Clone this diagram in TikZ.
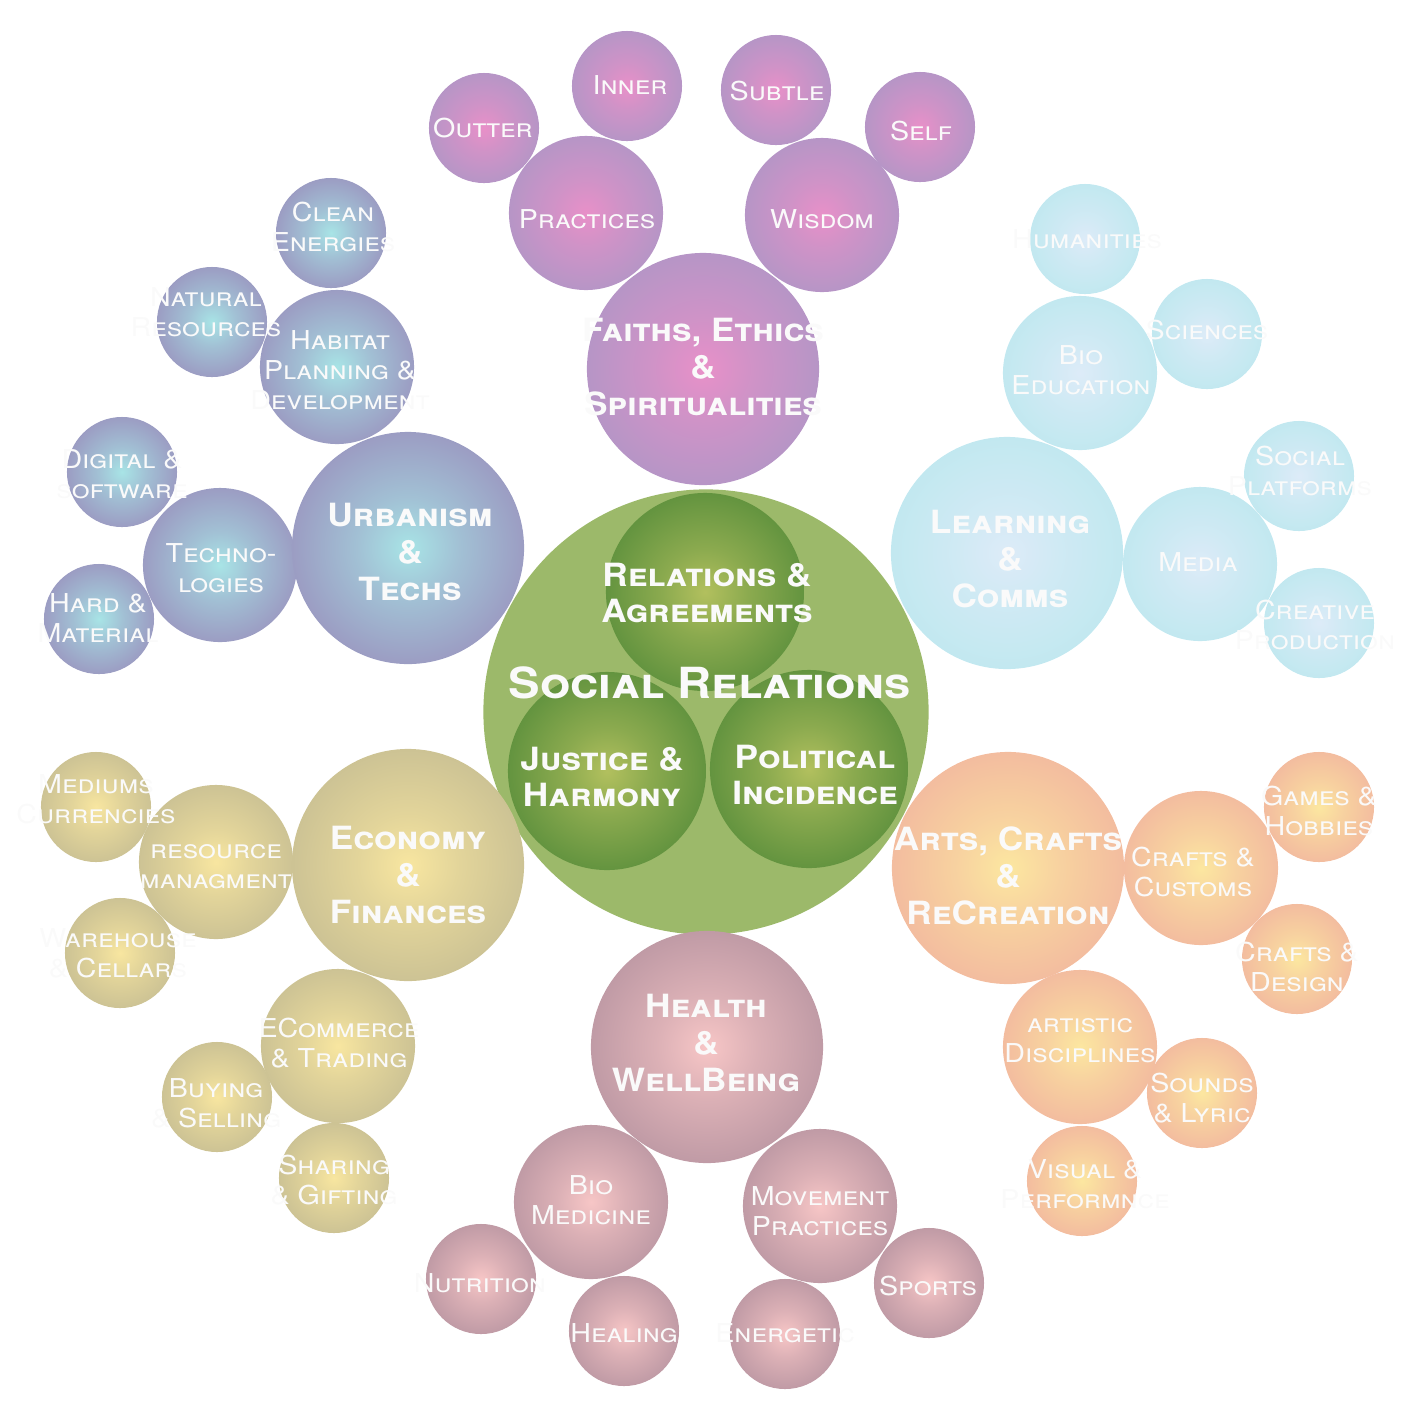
\documentclass[tikz,border=0pt]{standalone}
\usepackage{fontspec}
\setmainfont{TeX Gyre Heros}[FakeStretch=1.1]
\usepackage{tikz}

\definecolor{txtw}{RGB}{250,250,250}
\definecolor{core}{RGB}{156,185,106}
\definecolor{leafin}{RGB}{178,192,94}
\definecolor{leafout}{RGB}{91,143,60}
\definecolor{faithin}{RGB}{232,144,200}
\definecolor{faithout}{RGB}{177,150,198}
\definecolor{urbin}{RGB}{168,228,230}
\definecolor{urbout}{RGB}{154,149,191}
\definecolor{learnin}{RGB}{221,235,248}
\definecolor{learnout}{RGB}{191,232,239}
\definecolor{econin}{RGB}{248,230,160}
\definecolor{econout}{RGB}{200,191,147}
\definecolor{artin}{RGB}{252,231,160}
\definecolor{artout}{RGB}{242,184,159}
\definecolor{healin}{RGB}{247,198,198}
\definecolor{healout}{RGB}{186,150,162}

\colorlet{cin}{white}
\colorlet{cout}{black}
\pgfdeclareradialshading[cin,cout]{glow}{\pgfpointorigin}{color(0bp)=(cin); color(11bp)=(cin!55!cout); color(28bp)=(cout); color(50bp)=(cout)}

\tikzset{
  bubble/.style={circle, inner sep=0pt, shading=glow},
  bsmall/.style={bubble, minimum size=1.1cm},
  bmid/.style={bubble, minimum size=1.54cm},
  bbig/.style={bubble, minimum size=2.32cm},
  bleaf/.style={bubble, minimum size=1.98cm},
  leaf/.style={/utils/exec={\colorlet{cin}{leafin}\colorlet{cout}{leafout}}},
  faith/.style={/utils/exec={\colorlet{cin}{faithin}\colorlet{cout}{faithout}}},
  urb/.style={/utils/exec={\colorlet{cin}{urbin}\colorlet{cout}{urbout}}},
  learn/.style={/utils/exec={\colorlet{cin}{learnin}\colorlet{cout}{learnout}}},
  econ/.style={/utils/exec={\colorlet{cin}{econin}\colorlet{cout}{econout}}},
  art/.style={/utils/exec={\colorlet{cin}{artin}\colorlet{cout}{artout}}},
  heal/.style={/utils/exec={\colorlet{cin}{healin}\colorlet{cout}{healout}}},
  sublbl/.style={text=txtw, align=center, inner sep=0pt, font=\fontsize{7.4}{8.5}\selectfont\scshape},
  mainlbl/.style={text=txtw, align=center, inner sep=0pt, font=\fontsize{9.1}{10.5}\selectfont\bfseries\scshape},
}

\begin{document}
\begin{tikzpicture}[x=0.01cm,y=-0.01cm]
 \useasboundingbox (0,0) rectangle (1417,1417);
 \node[circle, fill=core, inner sep=0pt, minimum size=4.45cm] (social) at (706,712) {};
 \node[bleaf,leaf] (agree) at (705,592) {};
 \node[bleaf,leaf] (justice) at (607,771) {};
 \node[bleaf,leaf] (politic) at (809,769) {};
 % faiths
 \node[bsmall,faith] (outter) at (484,128) {};
 \node[bsmall,faith] (inner) at (627,86) {};
 \node[bsmall,faith] (subtle) at (776,90) {};
 \node[bsmall,faith] (self) at (920,127) {};
 \node[bmid,faith] (practices) at (586,213) {};
 \node[bmid,faith] (wisdom) at (822,215) {};
 \node[bbig,faith] (faiths) at (703,369) {};
 % urbanism
 \node[bsmall,urb] (clean) at (331,233) {};
 \node[bsmall,urb] (natural) at (212,322) {};
 \node[bmid,urb] (habitat) at (337,367) {};
 \node[bsmall,urb] (digital) at (122,472) {};
 \node[bsmall,urb] (hard) at (99,619) {};
 \node[bmid,urb] (techno) at (220,565) {};
 \node[bbig,urb] (urbanism) at (408,548) {};
 % learning
 \node[bsmall,learn] (humanities) at (1085,239) {};
 \node[bsmall,learn] (sciences) at (1207,334) {};
 \node[bmid,learn] (bioedu) at (1080,373) {};
 \node[bsmall,learn] (platforms) at (1299,476) {};
 \node[bsmall,learn] (creative) at (1319,623) {};
 \node[bmid,learn] (media) at (1200,564) {};
 \node[bbig,learn] (learning) at (1007,553) {};
 % economy
 \node[bsmall,econ] (mediums) at (96,807) {};
 \node[bsmall,econ] (warehouse) at (120,953) {};
 \node[bmid,econ] (resource) at (216,862) {};
 \node[bsmall,econ] (buying) at (217,1097) {};
 \node[bsmall,econ] (sharing) at (334,1178) {};
 \node[bmid,econ] (ecommerce) at (338,1046) {};
 \node[bbig,econ] (economy) at (408,865) {};
 % arts
 \node[bsmall,art] (games) at (1319,807) {};
 \node[bsmall,art] (design) at (1297,959) {};
 \node[bmid,art] (customs) at (1201,868) {};
 \node[bsmall,art] (sounds) at (1202,1093) {};
 \node[bsmall,art] (visual) at (1082,1181) {};
 \node[bmid,art] (artistic) at (1080,1047) {};
 \node[bbig,art] (arts) at (1008,868) {};
 % health
 \node[bsmall,heal] (nutrition) at (481,1279) {};
 \node[bsmall,heal] (healing) at (624,1331) {};
 \node[bsmall,heal] (energetic) at (785,1334) {};
 \node[bsmall,heal] (sports) at (929,1283) {};
 \node[bmid,heal] (biomed) at (591,1202) {};
 \node[bmid,heal] (movement) at (820,1206) {};
 \node[bbig,heal] (health) at (707,1047) {};

 % labels
 \node[mainlbl, font=\fontsize{12.2}{14}\selectfont\bfseries\scshape] (t-social) at (710,683) {Social Relations};
 \node[mainlbl] (t-agree) at (707,593) {Relations \&\\Agreements};
 \node[mainlbl] (t-justice) at (602,777) {Justice \&\\Harmony};
 \node[mainlbl] (t-politic) at (815,775) {Political\\Incidence};
 \node[mainlbl] (t-faiths) at (703,367) {Faiths, Ethics\\\&\\Spiritualities};
 \node[mainlbl] (t-urbanism) at (410,552) {Urbanism\\\&\\Techs};
 \node[mainlbl] (t-learning) at (1010,559) {Learning\\\&\\Comms};
 \node[mainlbl] (t-economy) at (408,875) {Economy\\\&\\Finances};
 \node[mainlbl] (t-arts) at (1008,876) {Arts, Crafts\\\&\\ReCreation};
 \node[mainlbl] (t-health) at (706,1043) {Health\\\&\\WellBeing};
 \node[sublbl] (t-practices) at (587,219) {Practices};
 \node[sublbl] (t-wisdom) at (822,219) {Wisdom};
 \node[sublbl] (t-outter) at (483,128) {Outter};
 \node[sublbl] (t-inner) at (630,85) {Inner};
 \node[sublbl] (t-subtle) at (777,91) {Subtle};
 \node[sublbl] (t-self) at (921,131) {Self};
 \node[sublbl] (t-clean) at (333,227) {Clean\\Energies};
 \node[sublbl] (t-natural) at (206,312) {Natural\\Resources};
 \node[sublbl] (t-habitat) at (340,370) {Habitat\\Planning \&\\Development};
 \node[sublbl] (t-digital) at (122,474) {Digital \&\\software};
 \node[sublbl] (t-techno) at (221,568) {Techno-\\logies};
 \node[sublbl] (t-hard) at (98,618) {Hard \&\\Material};
 \node[sublbl] (t-humanities) at (1087,239) {Humanities};
 \node[sublbl] (t-bioedu) at (1081,370) {Bio\\Education};
 \node[sublbl] (t-sciences) at (1207,330) {Sciences};
 \node[sublbl] (t-media) at (1198,562) {Media};
 \node[sublbl] (t-platforms) at (1300,471) {Social\\Platforms};
 \node[sublbl] (t-creative) at (1315,625) {Creative\\Production};
 \node[sublbl] (t-mediums) at (96,799) {Mediums\\Currencies};
 \node[sublbl] (t-resource) at (216,867) {resource\\managment};
 \node[sublbl] (t-warehouse) at (118,953) {Warehouse\\\& Cellars};
 \node[sublbl] (t-ecommerce) at (339,1043) {ECommerce\\\& Trading};
 \node[sublbl] (t-buying) at (216,1103) {Buying\\\& Selling};
 \node[sublbl] (t-sharing) at (334,1180) {Sharing\\\& Gifting};
 \node[sublbl] (t-customs) at (1193,872) {Crafts \&\\Customs};
 \node[sublbl] (t-games) at (1319,811) {Games \&\\Hobbies};
 \node[sublbl] (t-design) at (1297,967) {Crafts \&\\Design};
 \node[sublbl] (t-artistic) at (1080,1041) {artistic\\Disciplines};
 \node[sublbl] (t-sounds) at (1202,1098) {Sounds\\\& Lyric};
 \node[sublbl] (t-visual) at (1085,1184) {Visual \&\\Performnce};
 \node[sublbl] (t-biomed) at (591,1200) {Bio\\Medicine};
 \node[sublbl] (t-movement) at (820,1211) {Movement\\Practices};
 \node[sublbl] (t-nutrition) at (480,1283) {Nutrition};
 \node[sublbl] (t-healing) at (624,1333) {Healing};
 \node[sublbl] (t-energetic) at (785,1333) {Energetic};
 \node[sublbl] (t-sports) at (928,1286) {Sports};
\end{tikzpicture}
\end{document}
